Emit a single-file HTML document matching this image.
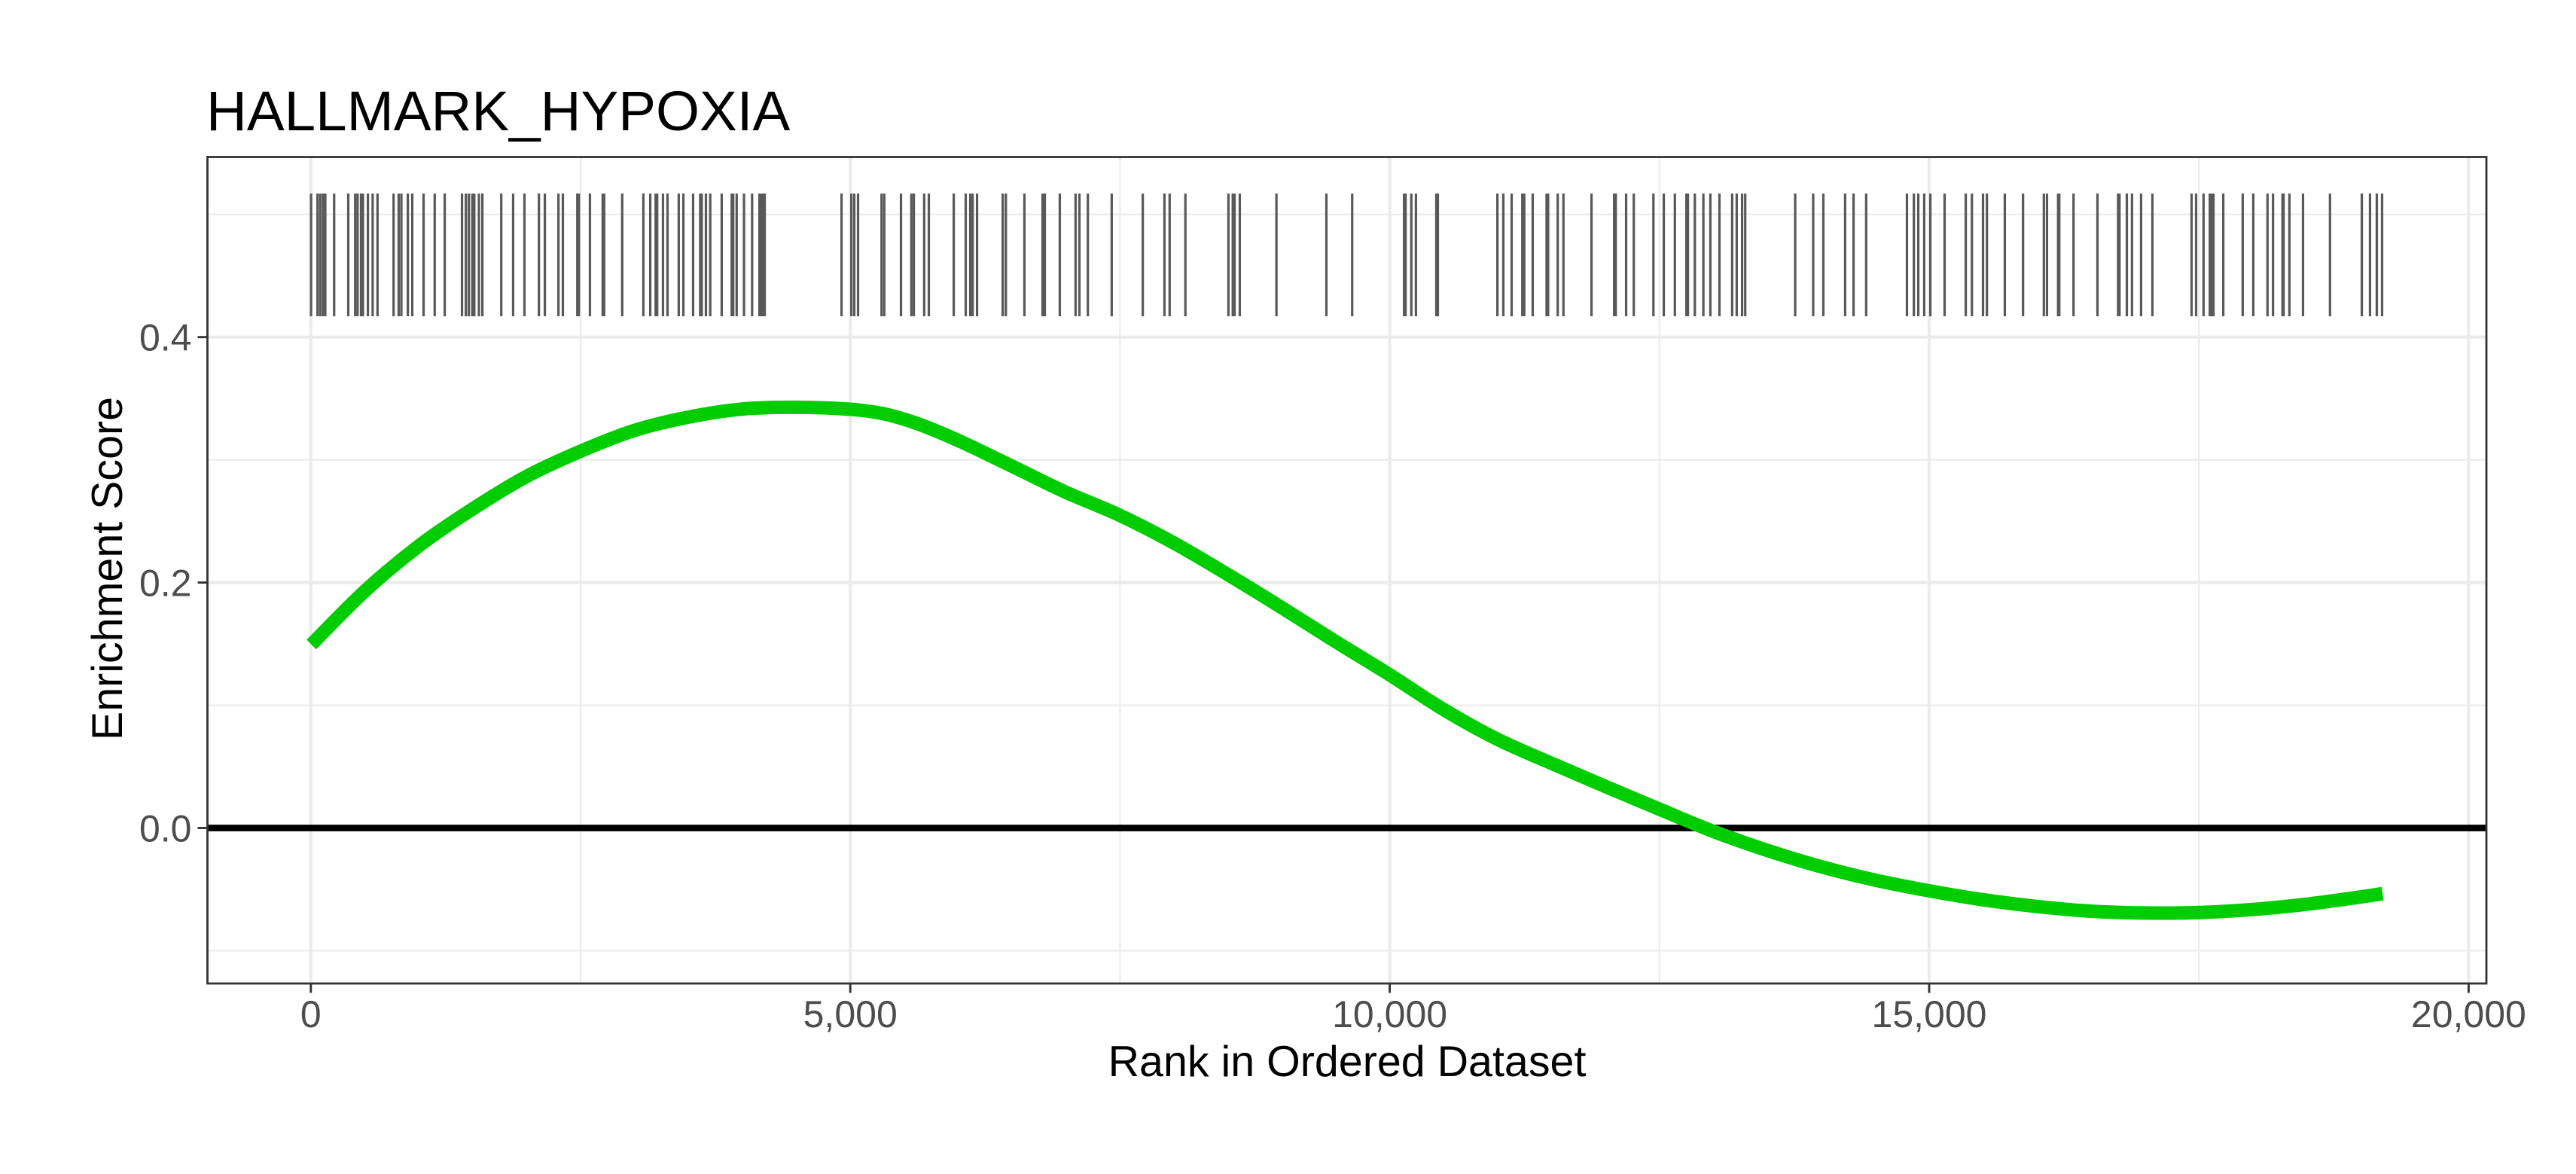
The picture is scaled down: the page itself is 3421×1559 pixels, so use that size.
<!DOCTYPE html>
<html lang="en">
<head>
<meta charset="utf-8">
<title>HALLMARK_HYPOXIA</title>
<style>
html,body{margin:0;padding:0;background:#fff;}
svg{display:block;font-family:"Liberation Sans",Arial,sans-serif;}
</style>
</head>
<body>
<svg id="chart" xmlns="http://www.w3.org/2000/svg" width="3421" height="1559" viewBox="0 0 3421 1559">
  <rect x="0" y="0" width="3421" height="1559" fill="#ffffff"/>
  <g id="grid"></g>
  <g id="rug"></g>
  <g id="zero"></g>
  <path id="curve" fill="none" stroke="#00cd00" stroke-width="18" stroke-linecap="butt" stroke-linejoin="round"/>
  <rect x="275.5" y="208.5" width="3026.5" height="1097.5" fill="none" stroke="#333333" stroke-width="2.8"/>
  <g id="axes"></g>
  <text x="274" y="173" font-size="74.6" fill="#000000">HALLMARK_HYPOXIA</text>
  <text x="1789" y="1429" font-size="57.4" fill="#000000" text-anchor="middle">Rank in Ordered Dataset</text>
  <text x="0" y="0" font-size="57.4" fill="#000000" text-anchor="middle" transform="translate(162 755) rotate(-90)">Enrichment Score</text>
</svg>
<script>
const xTicks = [0, 5000, 10000, 15000, 20000];
const xMinorTicks = [2500, 7500, 12500, 17500];
const xTickLabels = ["0", "5,000", "10,000", "15,000", "20,000"];
const yTicks = [0, 0.2, 0.4];
const yMinorTicks = [-0.1, 0.1, 0.3, 0.5];
const yTickLabels = ["0.0", "0.2", "0.4"];
const curveRanks = [5, 500, 1000, 1500, 2000, 2500, 3000, 3500, 4000, 4500, 5000, 5300, 5600, 5900, 6200, 6600, 7000, 7500, 8000, 8500, 9000, 9500, 10000, 10500, 11000, 11500, 12000, 12500, 13000, 13500, 14000, 14500, 15000, 15500, 16000, 16500, 17000, 17500, 18000, 18500, 19000, 19203];
const curveScores = [0.1495, 0.193, 0.2298, 0.26, 0.2865, 0.307, 0.324, 0.3348, 0.3414, 0.3428, 0.3412, 0.3377, 0.3302, 0.3197, 0.3076, 0.2905, 0.2735, 0.2547, 0.2322, 0.2065, 0.1795, 0.1518, 0.1248, 0.0965, 0.0722, 0.0527, 0.0338, 0.0153, -0.0028, -0.0183, -0.0316, -0.0425, -0.0512, -0.0585, -0.064, -0.0678, -0.0693, -0.0689, -0.0664, -0.0621, -0.0562, -0.0535];
const rugRanks = [2, 62, 87, 112, 134, 216, 347, 411, 433, 465, 483, 529, 573, 618, 767, 814, 839, 899, 940, 1045, 1148, 1241, 1401, 1437, 1465, 1497, 1515, 1558, 1590, 1765, 1875, 1980, 2114, 2169, 2295, 2336, 2470, 2484, 2587, 2705, 2719, 2886, 3082, 3146, 3196, 3210, 3264, 3306, 3410, 3453, 3543, 3609, 3623, 3662, 3702, 3808, 3901, 3915, 3947, 4015, 4090, 4158, 4175, 4193, 4207,
  4919, 5010, 5037, 5072, 5290, 5315, 5470, 5566, 5589, 5685, 5728, 5959, 6070, 6112, 6134, 6175, 6413, 6442, 6614, 6782, 6803, 6942, 7088, 7124, 7202, 7423, 7711, 7912, 7960, 8106, 8505, 8545, 8562, 8610, 8950, 9413, 9652,
  10133, 10147, 10200, 10243, 10432, 10446, 10998, 11053, 11130, 11229, 11247, 11325, 11454, 11468, 11557, 11610, 11870, 12080, 12095, 12191, 12262, 12444, 12540, 12643, 12750, 12764, 12828, 12907, 12972, 13056, 13174, 13216, 13266, 13295, 13758, 13925, 14019, 14221, 14299, 14416, 14794, 14858, 14899, 14954, 15011, 15143, 15339, 15396, 15499, 15535,
  15701, 15870, 16063, 16092, 16195, 16206, 16338, 16560, 16751, 16764, 16832, 16880, 16964, 17069, 17432, 17474, 17543, 17601, 17618, 17635, 17726, 17906, 18004, 18136, 18187, 18275, 18285, 18339, 18465, 18715, 19010, 19086, 19149, 19198];
const rugBottomScore = 0.417;
const rugTopScore = 0.517;

const NS = "http://www.w3.org/2000/svg";
const panel = { left: 275.5, right: 3302, top: 208.5, bottom: 1306 };
function xScale(rank) { return 412.8 + rank * 0.14328; }
function yScale(score) { return 1099.5 - score * 1629.5; }
function svgEl(parent, tag, attrs) {
  const el = document.createElementNS(NS, tag);
  for (const k in attrs) el.setAttribute(k, attrs[k]);
  parent.appendChild(el);
  return el;
}

const grid = document.getElementById("grid");
yMinorTicks.forEach(function (v) {
  const el = svgEl(grid, "line", { x1: panel.left, x2: panel.right, y1: yScale(v), y2: yScale(v), stroke: "#ebebeb", "stroke-width": 2.2 });
  
  
});
xMinorTicks.forEach(function (v) {
  const el = svgEl(grid, "line", { x1: xScale(v), x2: xScale(v), y1: panel.top, y2: panel.bottom, stroke: "#ebebeb", "stroke-width": 2.2 });
  
  
});
yTicks.forEach(function (v) {
  const el = svgEl(grid, "line", { x1: panel.left, x2: panel.right, y1: yScale(v), y2: yScale(v), stroke: "#ebebeb", "stroke-width": 4.2 });
  
  
});
xTicks.forEach(function (v) {
  const el = svgEl(grid, "line", { x1: xScale(v), x2: xScale(v), y1: panel.top, y2: panel.bottom, stroke: "#ebebeb", "stroke-width": 4.2 });
  
  
});

const rug = document.getElementById("rug");
rugRanks.forEach(function (r) {
  const el = svgEl(rug, "line", { x1: xScale(r), x2: xScale(r), y1: yScale(rugBottomScore), y2: yScale(rugTopScore), stroke: "#595959", "stroke-width": 3.2 });
  
  
});

const zeroLine = svgEl(document.getElementById("zero"), "line", { x1: panel.left, x2: panel.right, y1: yScale(0), y2: yScale(0), stroke: "#000000", "stroke-width": 8.7 });



// Smooth path through the curve's data points (Catmull-Rom to Bezier)
const pts = curveRanks.map(function (r, i) { return [xScale(r), yScale(curveScores[i])]; });
let d = "M" + pts[0][0].toFixed(2) + " " + pts[0][1].toFixed(2);
for (let i = 0; i < pts.length - 1; i++) {
  const p0 = pts[Math.max(0, i - 1)], p1 = pts[i], p2 = pts[i + 1], p3 = pts[Math.min(pts.length - 1, i + 2)];
  const c1x = p1[0] + (p2[0] - p0[0]) / 6, c1y = p1[1] + (p2[1] - p0[1]) / 6;
  const c2x = p2[0] - (p3[0] - p1[0]) / 6, c2y = p2[1] - (p3[1] - p1[1]) / 6;
  d += "C" + c1x.toFixed(2) + " " + c1y.toFixed(2) + " " + c2x.toFixed(2) + " " + c2y.toFixed(2) + " " + p2[0].toFixed(2) + " " + p2[1].toFixed(2);
}
document.getElementById("curve").setAttribute("d", d);

const axes = document.getElementById("axes");
xTicks.forEach(function (v, i) {
  const t = svgEl(axes, "line", { x1: xScale(v), x2: xScale(v), y1: panel.bottom, y2: 1318.5, stroke: "#333333", "stroke-width": 2.9 });
  
  
  const l = svgEl(axes, "text", { x: xScale(v), y: 1364, "font-size": 50, fill: "#4d4d4d", "text-anchor": "middle" });
  l.textContent = xTickLabels[i];
  
  
});
yTicks.forEach(function (v, i) {
  const t = svgEl(axes, "line", { x1: 262.5, x2: panel.left, y1: yScale(v), y2: yScale(v), stroke: "#333333", "stroke-width": 2.9 });
  
  
  const l = svgEl(axes, "text", { x: 254.5, y: yScale(v) + 18, "font-size": 50, fill: "#4d4d4d", "text-anchor": "end" });
  l.textContent = yTickLabels[i];
  
  
});
</script>
</body>
</html>
